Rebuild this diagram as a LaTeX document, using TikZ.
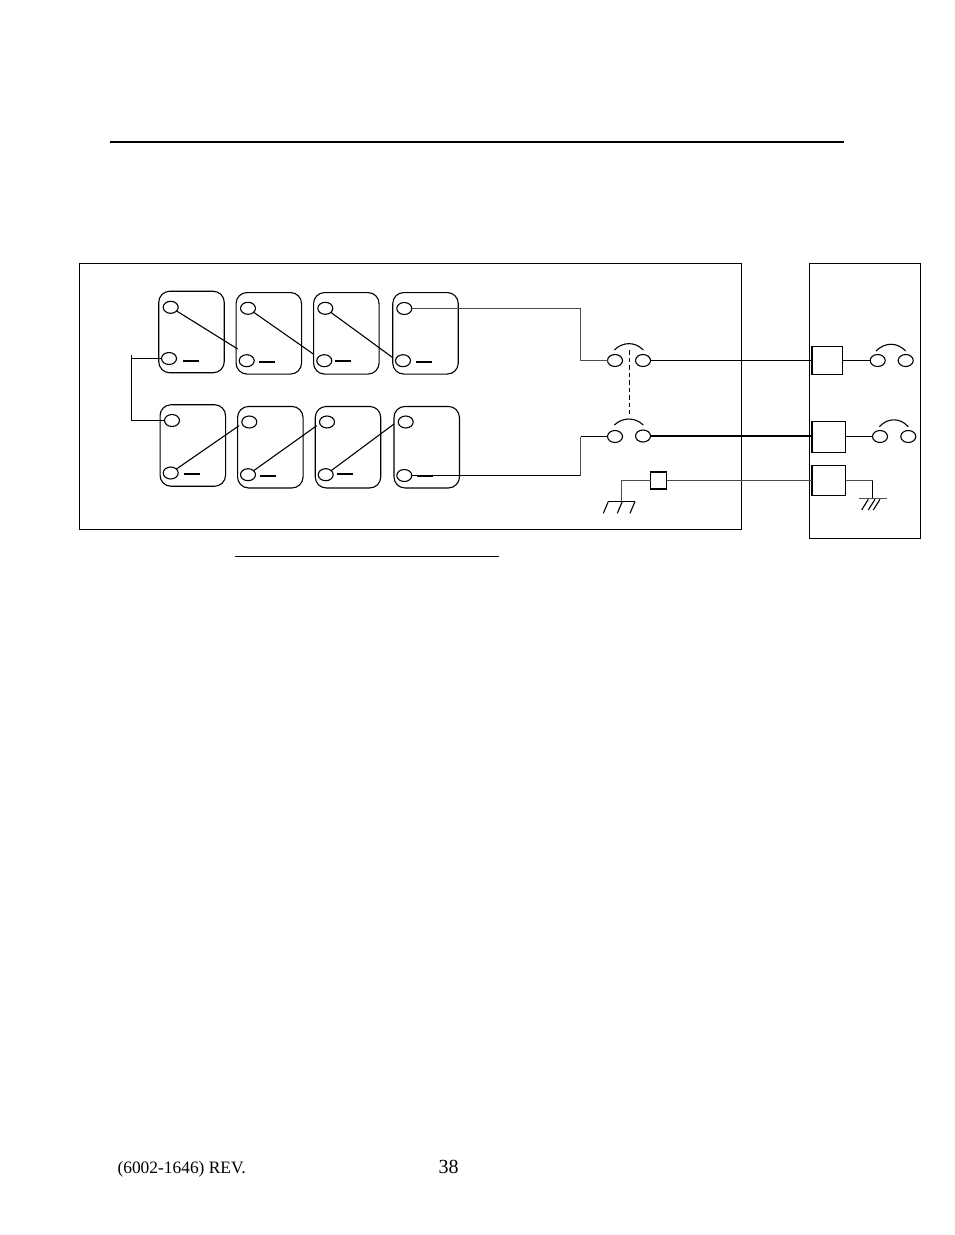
\documentclass[tikz,border=0pt]{standalone}
\usepackage{fontspec}
\setmainfont{Liberation Serif}
\usetikzlibrary{shapes.geometric}
\tikzstyle{cell}=[draw,rounded corners=11pt,minimum width=65.5pt,minimum height=81.5pt,inner sep=0pt,outer sep=0pt]
\tikzstyle{post}=[draw,ellipse,minimum width=15pt,minimum height=12pt,inner sep=0pt,outer sep=0pt]
\tikzstyle{minusbar}=[fill=black,minimum width=16pt,minimum height=1.8pt,inner sep=0pt,outer sep=0pt]
\tikzstyle{panel}=[draw,inner sep=0pt,outer sep=0pt]
\tikzstyle{relay}=[draw,inner sep=0pt,outer sep=0pt]
\tikzstyle{graywire}=[line width=1.1pt,black!70]

\begin{document}
\begin{tikzpicture}[x=1pt,y=-1pt,line width=1.1pt]
\useasboundingbox (0,0) rectangle (954,1235);
\draw[line width=2pt] (110,142) -- (844,142);
\draw[line width=1.1pt] (235,556.5) -- (499,556.5);
\node[panel,minimum width=662pt,minimum height=265.7pt] (main) at (410.5,396.2) {};
\node[panel,minimum width=111pt,minimum height=275pt] (side) at (864.8,400.8) {};
% battery cells
\node[cell] (b1) at (191.5,332) {};
\node[cell] (b2) at (268.8,333.3) {};
\node[cell] (b3) at (346.3,333.3) {};
\node[cell] (b4) at (425.5,333.3) {};
\node[cell] (b5) at (192.8,445.5) {};
\node[cell] (b6) at (270.3,447.2) {};
\node[cell] (b7) at (348,447.2) {};
\node[cell] (b8) at (426.7,447.2) {};
\node[post] (t1a) at (170.7,307.3) {};
\node[post] (t1b) at (169,358.5) {};
\node[post] (t2a) at (248,308.3) {};
\node[post] (t2b) at (246.7,360.7) {};
\node[post] (t3a) at (325.3,308.3) {};
\node[post] (t3b) at (324.3,360.7) {};
\node[post] (t4a) at (404.3,308.5) {};
\node[post] (t4b) at (403,360.7) {};
\node[post] (t5a) at (172,420.5) {};
\node[post] (t5b) at (170.7,473) {};
\node[post] (t6a) at (249.3,422) {};
\node[post] (t6b) at (248,474.7) {};
\node[post] (t7a) at (327,422) {};
\node[post] (t7b) at (325.7,474.7) {};
\node[post] (t8a) at (405.7,422) {};
\node[post] (t8b) at (404.3,475.5) {};
\node[minusbar] (m1) at (190.7,361) {};
\node[minusbar] (m2) at (267,362.3) {};
\node[minusbar] (m3) at (343,361) {};
\node[minusbar] (m4) at (423.7,362.3) {};
\node[minusbar] (m5) at (192,474.3) {};
\node[minusbar] (m6) at (268.3,476) {};
\node[minusbar] (m7) at (344.7,474.3) {};
\node[minusbar] (m8) at (424.5,476) {};
% links between cells
\coordinate (j1) at (237.7,349);
\coordinate (j2) at (313.3,354);
\coordinate (j3) at (392.3,357.3);
\coordinate (j5) at (239,425.7);
\coordinate (j6) at (316.7,425.7);
\coordinate (j7) at (394,424);
\draw (t1a) -- (j1);
\draw (t2a) -- (j2);
\draw (t3a) -- (j3);
\draw (t5b) -- (j5);
\draw (t6b) -- (j6);
\draw (t7b) -- (j7);
\coordinate (l1) at (131.5,355);
\draw (l1) -- (l1 |- t5a) -- (t5a.west);
\draw (l1 |- t1b) -- (t1b.west);
% breaker
\node[post] (s1a) at (615,360.5) {};
\node[post] (s1b) at (643,360.5) {};
\node[post] (s2a) at (615,436.5) {};
\node[post] (s2b) at (643,436) {};
\draw (614.3,350) .. controls (623,341.5) and (635,341.5) .. (643.3,350);
\draw (614.3,425) .. controls (623,417) and (635,417) .. (643.3,425);
\draw[dashed,dash pattern=on 4.5pt off 3pt] (629.7,350) -- (629.7,414.3);
\coordinate (c1) at (580.5,308.5);
\coordinate (c2) at (580.5,475.5);
\draw[graywire] (t4a.east) -- (c1) -- (c1 |- s1a) -- (s1a.west);
\draw (t8b.east) -- (c2);
\draw[graywire] (c2) -- (c2 |- s2a);
\draw (c2 |- s2a) -- (s2a.west);
% side panel
\node[relay,minimum width=31pt,minimum height=28pt] (r1) at (827.2,360.3) {};
\node[relay,minimum width=34pt,minimum height=31pt] (r2) at (828.7,436.8) {};
\node[relay,minimum width=34pt,minimum height=30pt] (r3) at (828.7,480.3) {};
\draw[line width=1.6pt] (r1.north west) -- (r1.south west);
\draw[line width=1.6pt] (r2.north west) -- (r2.south west);
\draw[line width=1.6pt] (r3.north west) -- (r3.south west);
\node[post] (o1a) at (877.7,360.5) {};
\node[post] (o1b) at (905.7,360.5) {};
\node[post] (o2a) at (880,436.5) {};
\node[post] (o2b) at (908.3,436.5) {};
\draw (876,351) .. controls (885,342) and (897,342) .. (905.7,351);
\draw (879.3,426.7) .. controls (888,417.5) and (900,417.5) .. (908.3,426.7);
\draw (s1b.east) -- (s1b -| r1.west);
\draw[line width=2pt] (s2b.east) -- (s2b -| r2.west);
\draw (r1.east |- o1a) -- (o1a.west);
\draw (r2.east |- o2a) -- (o2a.west);
% fuse and grounds
\node[relay,line width=1.5pt,minimum width=16pt,minimum height=16.6pt] (fuse) at (658.7,480.5) {};
\coordinate (g1) at (621.5,480.5);
\coordinate (g2) at (621.5,501);
\coordinate (g3) at (872.5,480.5);
\coordinate (g4) at (872.5,498.5);
\draw[graywire] (fuse.west) -- (g1) -- (g2);
\draw[graywire] (fuse.east) -- (fuse.east -| r3.west);
\draw[graywire] (r3.east |- g3) -- (g3);
\draw (g3) -- (g4);
\draw (608.3,501.5) -- (635,501.5);
\draw (608.3,501.5) -- (603.3,513.3);
\draw (622.3,501.5) -- (617.3,513.3);
\draw (635,501.5) -- (630,513.3);
\draw[graywire] (859.3,498.5) -- (886.7,498.5);
\draw (868.3,499.3) -- (861.7,510);
\draw (875,499.3) -- (868.3,510);
\draw (880,499.3) -- (873.3,510);
% footer
\node[anchor=west,inner sep=0pt,font=\fontsize{17.4}{20}\selectfont] (rev) at (117,1169) {(6002-1646) REV.};
\node[anchor=west,inner sep=0pt,font=\fontsize{20}{24}\selectfont] (page) at (438,1167) {38};
\end{tikzpicture}
\end{document}
